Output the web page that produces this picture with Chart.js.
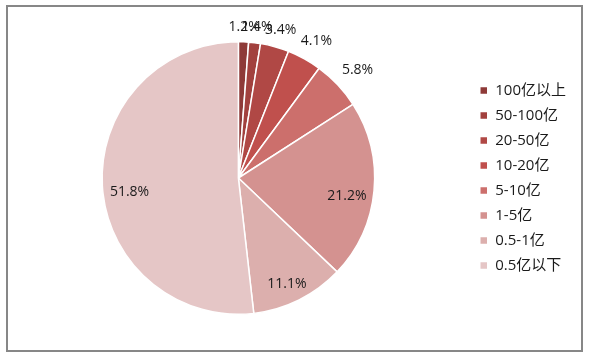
<!DOCTYPE html>
<html>
<head>
<meta charset="utf-8">
<script src="https://cdn.jsdelivr.net/npm/chart.js@4/dist/chart.umd.min.js"></script>
<style>
html,body{margin:0;padding:0;background:#fff;}
#wrap{width:589px;height:357px;position:relative;}
</style>
</head>
<body>
<div id="wrap"><canvas id="c" width="589" height="357"></canvas></div>
<script>
const categories = ['100亿以上', '50-100亿', '20-50亿', '10-20亿', '5-10亿', '1-5亿', '0.5-1亿', '0.5亿以下'];
const shares = [1.2, 1.4, 3.4, 4.1, 5.8, 21.2, 11.1, 51.8];
const sliceColors = ['#8E3A38', '#A2413E', '#B04845', '#C0504D', '#CC6F6C', '#D49290', '#DCAFAD', '#E5C6C6'];

const FONT = '"Open Sans", "Noto Sans CJK SC", sans-serif';

const labelPlugin = {
  id: 'sliceLabels',
  afterDatasetsDraw(chart) {
    const ctx = chart.ctx;
    const meta = chart.getDatasetMeta(0);
    ctx.save();
    ctx.font = '14px ' + FONT;
    ctx.fillStyle = '#1a1a1a';
    ctx.textAlign = 'center';
    ctx.textBaseline = 'middle';
    meta.data.forEach((arc, i) => {
      const v = shares[i];
      const txt = v.toFixed(1) + '%';
      const mid = (arc.startAngle + arc.endAngle) / 2;
      const s = Math.cos(mid), c = Math.sin(mid);
      let r, dy;
      if (v < 10) {
        const w = ctx.measureText(txt).width;
        r = arc.outerRadius + 11 + (w / 2) * Math.abs(s) + 7 * Math.abs(c);
        dy = 4;
      } else {
        r = arc.outerRadius * 0.8;
        dy = 8;
      }
      ctx.fillText(txt, arc.x + r * s, arc.y + r * c + dy);
    });
    ctx.restore();
  }
};

const framePlugin = {
  id: 'frame',
  afterDraw(chart) {
    const ctx = chart.ctx;
    ctx.save();
    ctx.strokeStyle = '#878787';
    ctx.lineWidth = 2;
    ctx.strokeRect(7, 6, 575, 345);
    ctx.restore();
  }
};

new Chart(document.getElementById('c'), {
  type: 'pie',
  data: {
    labels: categories,
    datasets: [{
      data: shares,
      backgroundColor: sliceColors,
      borderColor: '#ffffff',
      borderWidth: 1.5
    }]
  },
  options: {
    responsive: false,
    animation: false,
    layout: { padding: { left: 7, right: 13, top: 41, bottom: 42 } },
    plugins: {
      legend: {
        position: 'right',
        labels: {
          boxWidth: 8,
          boxHeight: 8,
          padding: 10,
          color: '#1a1a1a',
          font: { size: 15, family: FONT }
        }
      },
      tooltip: { enabled: false }
    }
  },
  plugins: [labelPlugin, framePlugin]
});
</script>
</body>
</html>
